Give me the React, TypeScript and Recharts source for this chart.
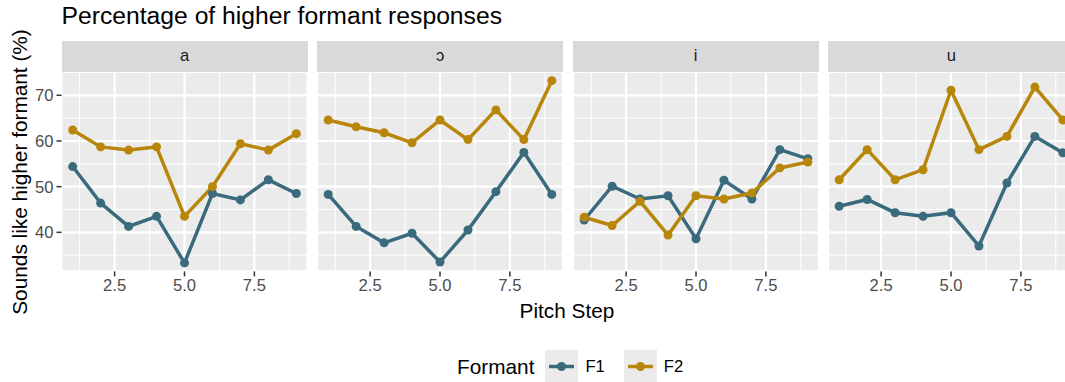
import React from 'react';
import { LineChart, Line, XAxis, YAxis, CartesianGrid } from 'recharts';

// Pitch steps shared by every vowel panel
const STEPS = [1, 2, 3, 4, 5, 6, 7, 8, 9];
const VOWELS = ['a', 'ɔ', 'i', 'u'];

// % "sounds like higher formant"
const F1_A = [54.4, 46.4, 41.3, 43.5, 33.3, 48.5, 47.1, 51.5, 48.5];
const F2_A = [62.4, 58.7, 58.0, 58.7, 43.5, 50.0, 59.4, 58.0, 61.6];
const F1_O = [48.3, 41.3, 37.7, 39.8, 33.5, 40.5, 48.9, 57.5, 48.3];
const F2_O = [64.6, 63.1, 61.8, 59.6, 64.6, 60.3, 66.8, 60.3, 73.2];
const F1_I = [42.7, 50.1, 47.3, 48.0, 38.6, 51.4, 47.3, 58.1, 56.1];
const F2_I = [43.3, 41.5, 46.8, 39.4, 48.0, 47.3, 48.6, 54.1, 55.4];
const F1_U = [45.7, 47.2, 44.3, 43.5, 44.3, 37.0, 50.8, 61.0, 57.4];
const F2_U = [51.5, 58.1, 51.5, 53.7, 71.1, 58.1, 61.0, 71.8, 64.6];

const F1_SERIES = [F1_A, F1_O, F1_I, F1_U];
const F2_SERIES = [F2_A, F2_O, F2_I, F2_U];

const X_TICKS = [2.5, 5.0, 7.5];
const X_MINOR = [1.25, 3.75, 6.25, 8.75];
const Y_TICKS = [40, 50, 60, 70];
const Y_MINOR = [35, 45, 55, 65, 75];

const F1_COLOR = '#3a6b7d';
const F2_COLOR = '#b8860b';
const FONT = '"Liberation Sans", Arial, Helvetica, sans-serif';

const PANEL_LEFT = [61.5, 317.1, 572.7, 828.3];
const PANEL_W = 246;
const PLOT_TOP = 72.3;
const PLOT_H = 199.4;
const STRIP_TOP = 40.7;
const AXIS_H = 40;

function Panel({ idx }: { idx: number }) {
  const data = STEPS.map((s, i) => ({ step: s, F1: F1_SERIES[idx][i], F2: F2_SERIES[idx][i] }));
  const first = idx === 0;
  const left = first ? 0 : PANEL_LEFT[idx];
  const width = first ? PANEL_LEFT[0] + PANEL_W : PANEL_W;
  const tickStyle = { fontSize: 16.6, fill: '#4d4d4d', fontFamily: FONT };

  return (
    <div style={{ position: 'absolute', left, top: PLOT_TOP }}>
      <LineChart width={width} height={PLOT_H + AXIS_H} data={data} margin={{ top: 0, right: 0, bottom: 0, left: 0 }}>
        <XAxis xAxisId="minor" dataKey="step" type="number" domain={[0.6, 9.4]} ticks={X_MINOR} hide allowDataOverflow />
        <YAxis yAxisId="minor" type="number" domain={[31.45, 75.1]} ticks={Y_MINOR} hide allowDataOverflow />
        <CartesianGrid xAxisId="minor" yAxisId="minor" fill="#ebebeb" fillOpacity={1} stroke="#ffffff" strokeWidth={1} />
        <CartesianGrid stroke="#ffffff" strokeWidth={2.2} />
        <XAxis
          dataKey="step"
          type="number"
          domain={[0.6, 9.4]}
          ticks={X_TICKS}
          tickFormatter={(v: number) => v.toFixed(1)}
          allowDataOverflow
          height={AXIS_H}
          axisLine={false}
          tickSize={5}
          tickMargin={3}
          tickLine={{ stroke: '#333333', strokeWidth: 1.5 }}
          tick={tickStyle}
        />
        <YAxis
          type="number"
          domain={[31.45, 75.1]}
          ticks={Y_TICKS}
          allowDataOverflow
          hide={!first}
          width={PANEL_LEFT[0]}
          axisLine={false}
          tickSize={5}
          tickMargin={3}
          tickLine={{ stroke: '#333333', strokeWidth: 1.5 }}
          tick={tickStyle}
        />
        <Line
          type="linear"
          dataKey="F1"
          stroke={F1_COLOR}
          strokeWidth={3.5}
          dot={{ r: 4.5, fill: F1_COLOR, stroke: F1_COLOR, strokeWidth: 0 }}
          activeDot={false}
          isAnimationActive={false}
        />
        <Line
          type="linear"
          dataKey="F2"
          stroke={F2_COLOR}
          strokeWidth={3.5}
          dot={{ r: 4.5, fill: F2_COLOR, stroke: F2_COLOR, strokeWidth: 0 }}
          activeDot={false}
          isAnimationActive={false}
        />
      </LineChart>
    </div>
  );
}

function LegendKey({ color }: { color: string }) {
  return (
    <svg width={33} height={33} style={{ display: 'block' }}>
      <rect x={0} y={0} width={33} height={33} fill="#ebebeb" />
      <line x1={4} y1={16.5} x2={29} y2={16.5} stroke={color} strokeWidth={3.5} />
      <circle cx={16.5} cy={16.5} r={4.5} fill={color} />
    </svg>
  );
}

export default function App() {
  return (
    <div
      style={{
        position: 'fixed',
        left: 0,
        top: 0,
        width: 1065,
        height: 382,
        overflow: 'hidden',
        background: '#ffffff',
        fontFamily: FONT,
      }}
    >
      <div style={{ position: 'absolute', left: 61.5, top: 2, fontSize: 24.7, color: '#000', whiteSpace: 'nowrap' }}>
        Percentage of higher formant responses
      </div>

      <div
        style={{
          position: 'absolute',
          left: 20,
          top: PLOT_TOP + PLOT_H / 2,
          transform: 'translate(-50%, -50%) rotate(-90deg)',
          fontSize: 20.8,
          color: '#000',
          whiteSpace: 'nowrap',
        }}
      >
        Sounds like higher formant (%)
      </div>

      {VOWELS.map((v, i) => (
        <div
          key={v}
          style={{
            position: 'absolute',
            left: PANEL_LEFT[i],
            top: STRIP_TOP,
            width: PANEL_W,
            height: PLOT_TOP - STRIP_TOP,
            background: '#d9d9d9',
            color: '#1a1a1a',
            fontSize: 16.6,
            display: 'flex',
            alignItems: 'center',
            justifyContent: 'center',
          }}
        >
          {v}
        </div>
      ))}

      {VOWELS.map((v, i) => (
        <Panel key={v} idx={i} />
      ))}

      <div
        style={{
          position: 'absolute',
          left: 567,
          top: 311,
          transform: 'translate(-50%, -50%)',
          fontSize: 20.8,
          color: '#000',
          whiteSpace: 'nowrap',
        }}
      >
        Pitch Step
      </div>

      <div
        style={{
          position: 'absolute',
          left: 457,
          top: 350,
          height: 33,
          display: 'flex',
          alignItems: 'center',
          whiteSpace: 'nowrap',
        }}
      >
        <span style={{ fontSize: 20.8, color: '#000', marginRight: 11 }}>Formant</span>
        <LegendKey color={F1_COLOR} />
        <span style={{ fontSize: 16.6, color: '#000', marginLeft: 7, marginRight: 19 }}>F1</span>
        <LegendKey color={F2_COLOR} />
        <span style={{ fontSize: 16.6, color: '#000', marginLeft: 7 }}>F2</span>
      </div>
    </div>
  );
}
